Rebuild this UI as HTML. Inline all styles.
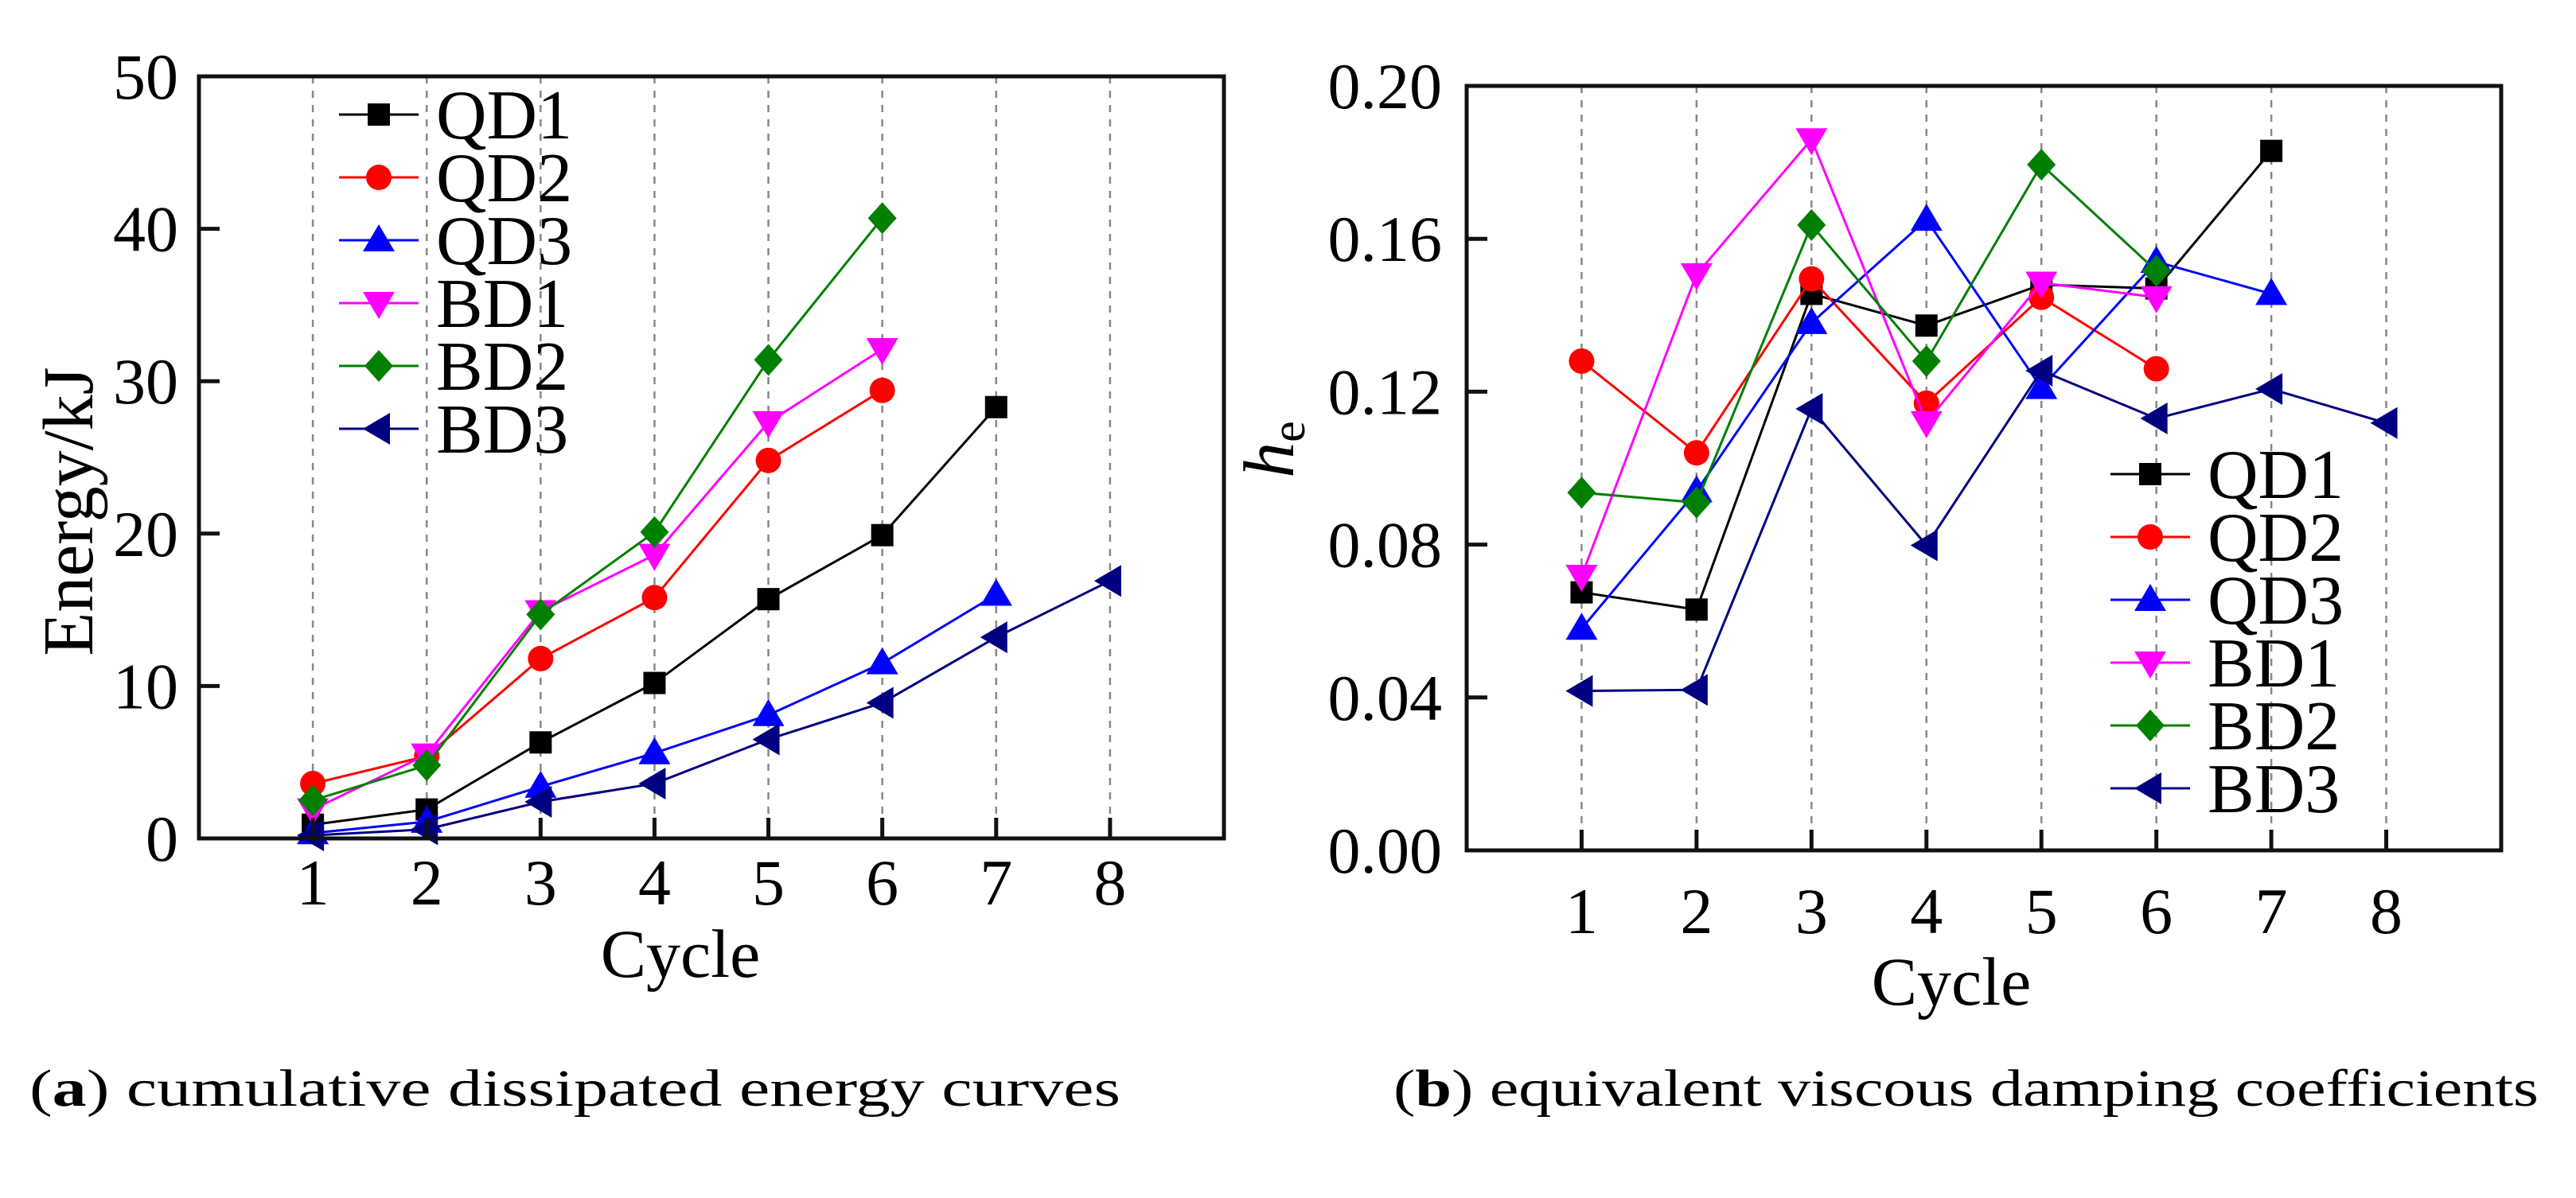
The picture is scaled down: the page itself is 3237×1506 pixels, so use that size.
<!DOCTYPE html>
<html><head><meta charset="utf-8"><style>
html,body{margin:0;padding:0;background:#fff;}
svg, svg text{font-family:"Liberation Serif","Times New Roman",Times,"Nimbus Roman",serif;}
</style></head><body>
<svg id="fig" width="3237" height="1501" viewBox="0 0 3237 1501" xmlns="http://www.w3.org/2000/svg" font-family="Liberation Serif, Times New Roman, serif">
<rect width="3237" height="1501" fill="#fff"/>
<g id="chartA"></g>
<g id="chartB"></g>
<text font-family="Liberation Serif, serif" x="37" y="1390" font-size="66" textLength="1371" lengthAdjust="spacingAndGlyphs">(<tspan font-weight="bold">a</tspan>) cumulative dissipated energy curves</text>
<text font-family="Liberation Serif, serif" x="1751" y="1390" font-size="66" textLength="1439" lengthAdjust="spacingAndGlyphs">(<tspan font-weight="bold">b</tspan>) equivalent viscous damping coefficients</text>
</svg>
<script>
const seriesNames = ["QD1","QD2","QD3","BD1","BD2","BD3"];
const seriesColors = ["#000000","#ff0000","#0000ff","#ff00ff","#008000","#000080"];
const seriesMarkers = ["square","circle","tri-up","tri-down","diamond","tri-left"];
const cycles = [1,2,3,4,5,6,7,8];
const xTicks = [1,2,3,4,5,6,7,8];
// Energy (kJ)
const energyQD1 = [0.9,1.9,6.3,10.2,15.7,19.9,28.3];
const energyQD2 = [3.6,5.4,11.8,15.8,24.8,29.4];
const energyQD3 = [0.35,1.1,3.4,5.6,8.1,11.5,16.0];
const energyBD1 = [1.9,5.5,14.9,18.6,27.3,32.1];
const energyBD2 = [2.5,4.8,14.7,20.1,31.4,40.7];
const energyBD3 = [0.2,0.6,2.4,3.6,6.5,8.9,13.2,16.9];
const energyTicks = [0,10,20,30,40,50];
const energyTickLabels = ["0","10","20","30","40","50"];
// equivalent viscous damping he
const heQD1 = [0.0675,0.063,0.1456,0.1373,0.148,0.147,0.183];
const heQD2 = [0.128,0.104,0.1495,0.117,0.1447,0.126];
const heQD3 = [0.058,0.094,0.138,0.165,0.121,0.154,0.1456];
const heBD1 = [0.0718,0.1507,0.186,0.112,0.1485,0.1447];
const heBD2 = [0.0936,0.091,0.1636,0.128,0.1794,0.1516];
const heBD3 = [0.0417,0.042,0.1155,0.0798,0.1255,0.113,0.1207,0.1118];
const heTicks = [0,0.04,0.08,0.12,0.16,0.20];
const heTickLabels = ["0.00","0.04","0.08","0.12","0.16","0.20"];

const NS="http://www.w3.org/2000/svg";
const FF="Liberation Serif, Times New Roman, serif";
function mk(tag,attrs,parent){const e=document.createElementNS(NS,tag);for(const k in attrs)e.setAttribute(k,attrs[k]);if(tag==="text")e.setAttribute("font-family",FF);parent.appendChild(e);return e;}

function marker(g,type,cx,cy,color){
  let e;
  if(type==="square"){e=mk("rect",{x:cx-14,y:cy-14,width:28,height:28,fill:color},g);}
  else if(type==="circle"){e=mk("circle",{cx:cx,cy:cy,r:16,fill:color},g);}
  else if(type==="tri-up"){e=mk("polygon",{points:`${cx},${cy-20} ${cx+20},${cy+14} ${cx-20},${cy+14}`,fill:color},g);}
  else if(type==="tri-down"){e=mk("polygon",{points:`${cx},${cy+20} ${cx+20},${cy-14} ${cx-20},${cy-14}`,fill:color},g);}
  else if(type==="diamond"){e=mk("polygon",{points:`${cx},${cy-20} ${cx+18},${cy} ${cx},${cy+20} ${cx-18},${cy}`,fill:color},g);}
  else {e=mk("polygon",{points:`${cx-20},${cy} ${cx+14},${cy-20} ${cx+14},${cy+20}`,fill:color},g);}
  return e;
}

function drawChart(g,cfg){
  const {L,R,T,B,ymax,yTicks,yLabels,data,xlab,legend,tickLblBase,ylabX} = cfg;
  const sx=v=>L+(v-0)/(9-0)*(R-L);
  const sy=v=>B-(v/ymax)*(B-T);
  xTicks.forEach(t=>{
    const l=mk("line",{x1:sx(t),x2:sx(t),y1:T,y2:B-26,stroke:"#888",'stroke-width':2.5,'stroke-dasharray':"9,9"},g);
    
    
  });
  data.forEach((arr,i)=>{
    const sg=mk("g",{},g);
    
    
    const pts=arr.map((v,j)=>sx(cycles[j])+","+sy(v)).join(" ");
    mk("polyline",{points:pts,fill:"none",stroke:seriesColors[i],'stroke-width':3},sg);
    arr.forEach((v,j)=>{
      const m=marker(sg,seriesMarkers[i],sx(cycles[j]),sy(v),seriesColors[i]);
      
      
    });
  });
  const fr=mk("rect",{x:L,y:T,width:R-L,height:B-T,fill:"none",stroke:"#111",'stroke-width':5},g);
  
  
  xTicks.forEach(t=>{
    mk("line",{x1:sx(t),x2:sx(t),y1:B,y2:B-26,stroke:"#111",'stroke-width':5},g);
    const tx=mk("text",{x:sx(t),y:tickLblBase,'font-size':82,'text-anchor':"middle"},g);
    tx.textContent=t;
    
    
  });
  yTicks.forEach((t,i)=>{
    mk("line",{x1:L,x2:L+26,y1:sy(t),y2:sy(t),stroke:"#111",'stroke-width':5},g);
    const tx=mk("text",{x:ylabX,y:sy(t)+28,'font-size':82,'text-anchor':"end"},g);
    tx.textContent=yLabels[i];
    
    
  });
  const xt=mk("text",{x:xlab.x,y:xlab.y,'font-size':86,'text-anchor':"middle"},g);
  xt.textContent="Cycle";
  
  
  const lg=mk("g",{},g);
  
  
  seriesNames.forEach((n,i)=>{
    const y=legend.y+legend.dy*i;
    const eg=mk("g",{},lg);
    
    
    mk("line",{x1:legend.x,x2:legend.x+100,y1:y,y2:y,stroke:seriesColors[i],'stroke-width':3},eg);
    marker(eg,seriesMarkers[i],legend.x+50,y,seriesColors[i]);
    const t=mk("text",{x:legend.x+122,y:y+30,'font-size':88},eg);
    t.textContent=n;
  });
}

const gA=document.getElementById("chartA");
drawChart(gA,{L:250,R:1538,T:96,B:1054,ymax:50,yTicks:energyTicks,yLabels:energyTickLabels,
  data:[energyQD1,energyQD2,energyQD3,energyBD1,energyBD2,energyBD3],
  xlab:{x:855,y:1228},legend:{x:426,y:144,dy:79},tickLblBase:1137,ylabX:224});
const ya=mk("text",{x:0,y:0,'font-size':90,'text-anchor':"middle",transform:"translate(116,643) rotate(-90)"},gA);
ya.textContent="Energy/kJ";



const gB=document.getElementById("chartB");
drawChart(gB,{L:1843,R:3143,T:108,B:1069,ymax:0.20,yTicks:heTicks,yLabels:heTickLabels,
  data:[heQD1,heQD2,heQD3,heBD1,heBD2,heBD3],
  xlab:{x:2452,y:1263},legend:{x:2652,y:596,dy:79},tickLblBase:1173,ylabX:1812});
const yb=mk("text",{x:0,y:0,'font-size':90,'text-anchor':"middle",transform:"translate(1625,565) rotate(-90)"},gB);


const th=mk("tspan",{'font-style':"italic"},yb); th.textContent="h";
const te=mk("tspan",{'font-size':60,dy:14},yb); te.textContent="e";
</script>
</body></html>
